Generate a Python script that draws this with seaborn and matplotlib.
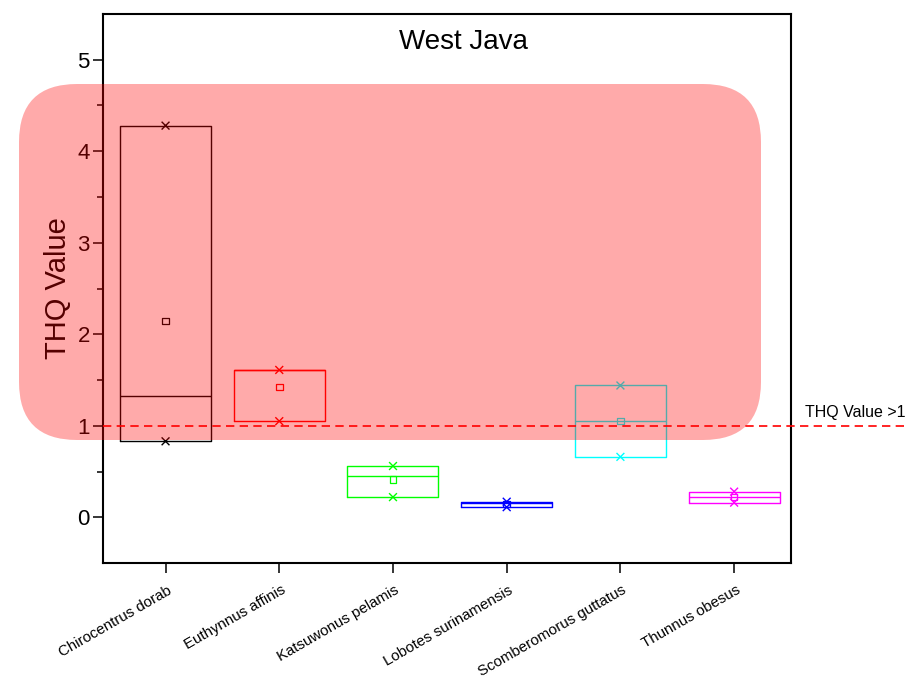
import numpy as np
import pandas as pd
import matplotlib
matplotlib.use("Agg")
import matplotlib.pyplot as plt
import matplotlib.transforms as mtransforms
from matplotlib.patches import FancyBboxPatch
import seaborn as sns

# THQ values per species (three samples each)
species = ["Chirocentrus dorab", "Euthynnus affinis", "Katsuwonus pelamis",
           "Lobotes surinamensis", "Scomberomorus guttatus", "Thunnus obesus"]
thq_low = [0.83, 1.05, 0.22, 0.11, 0.66, 0.16]
thq_mid = [1.33, 1.61, 0.45, 0.16, 1.05, 0.22]
thq_high = [4.28, 1.61, 0.56, 0.17, 1.44, 0.28]
colors = ["#000000", "#FF0000", "#00FF00", "#0000FF", "#00FFFF", "#FF00FF"]
threshold = 1.0
y_ticks = [0, 1, 2, 3, 4, 5]

sns.set_style("ticks")
plt.rcParams["font.family"] = ["Liberation Sans", "DejaVu Sans"]
plt.rcParams.update({"text.color": "black", "axes.labelcolor": "black",
                     "xtick.color": "black", "ytick.color": "black"})

df = pd.DataFrame({
    "species": np.repeat(species, 3),
    "pos": np.repeat(np.arange(len(species)), 3),
    "thq": np.ravel(np.column_stack([thq_low, thq_mid, thq_high])),
})
summary = df.groupby("pos", sort=True)["thq"].agg(["min", "median", "max", "mean"])
summary["species"] = species

fig = plt.figure(figsize=(9.09, 6.84), dpi=100)
ax = fig.add_axes([103 / 909, 1 - 563 / 684, 688 / 909, 549 / 684])

# boxes spanning the sample range with a median line
stats = [dict(med=r["median"], q1=r["min"], q3=r["max"], whislo=r["min"],
              whishi=r["max"], label=r["species"]) for _, r in summary.iterrows()]
parts = ax.bxp(stats, positions=list(summary.index), widths=0.8, showcaps=False,
               showfliers=False, manage_ticks=False)
for i, c in enumerate(colors):
    parts["boxes"][i].set(color=c, linewidth=1.0)
    parts["medians"][i].set(color=c, linewidth=1.0)
for w in parts["whiskers"]:
    w.set_visible(False)

# min / max markers
ext = pd.concat([
    summary[["species", "min"]].rename(columns={"min": "thq"}),
    summary[["species", "max"]].rename(columns={"max": "thq"}),
]).reset_index()
sns.scatterplot(data=ext, x="pos", y="thq", hue="species", palette=colors,
                hue_order=species, marker="x", s=32, linewidth=1.0,
                legend=False, ax=ax, zorder=3)

# mean markers (open squares)
means = summary.reset_index()
sns.scatterplot(data=means, x="pos", y="mean", hue="species", palette=colors,
                hue_order=species, marker="s", s=22, linewidth=0.9,
                legend=False, ax=ax, zorder=3)
sq = ax.collections[-1]
sq.set_edgecolors(sq.get_facecolors())
sq.set_facecolor("none")

# threshold line extending past the plot area
ax.axhline(threshold, xmin=0, xmax=(909 - 103) / 688, color="#FF0000",
           linestyle=(0, (5, 3.2)), linewidth=1.2, clip_on=False, zorder=4)
ax.annotate("THQ Value >1", xy=(1.02, threshold),
            xycoords=mtransforms.blended_transform_factory(ax.transAxes, ax.transData),
            xytext=(0, 4), textcoords="offset points", ha="left", va="bottom",
            fontsize=11.5, annotation_clip=False)

ax.set_xlim(-0.55, 5.5)
ax.set_ylim(-0.5, 5.5)
ax.set_xticks(list(summary.index))
ax.set_xticklabels(species, rotation=30, ha="right", rotation_mode="anchor", fontsize=10.8)
ax.set_yticks(y_ticks)
ax.set_yticks(np.arange(0.5, 5.0, 1.0), minor=True)
ax.tick_params(axis="y", which="major", direction="out", length=7.5, width=1.1,
               labelsize=16, pad=2)
ax.tick_params(axis="y", which="minor", direction="out", length=4, width=1.1)
ax.tick_params(axis="x", which="major", direction="out", length=7.5, width=1.1, pad=7)
for lab in ax.get_xticklabels():
    lab.set_transform(lab.get_transform() + mtransforms.ScaledTranslation(1 / 72, 0, fig.dpi_scale_trans))
for s in ax.spines.values():
    s.set_visible(True)
    s.set_linewidth(1.5)
    s.set_color("black")

ax.set_xlabel("")
ax.set_ylabel("THQ Value", fontsize=21)
ax.yaxis.set_label_coords((58 - 103) / 688, 0.5)
ax.yaxis.label.set_va("center")
ax.text((463 - 103) / 688, 1 - 28 / 549, "West Java", transform=ax.transAxes,
        ha="center", va="center", fontsize=20)

# translucent highlight over the elevated-risk area
hl = FancyBboxPatch((19, 684 - 440), 742, 356,
                    boxstyle="round,pad=0,rounding_size=58",
                    transform=mtransforms.IdentityTransform(),
                    facecolor="#FF0000", edgecolor="none", alpha=0.333, zorder=10)
fig.add_artist(hl)

fig.savefig("out.png", dpi=100)
